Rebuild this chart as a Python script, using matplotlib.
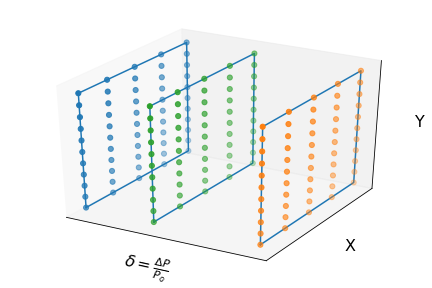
import matplotlib
matplotlib.use("Agg")
import matplotlib.pyplot as plt
import numpy as np
from mpl_toolkits.mplot3d import Axes3D

delta_planes = [-0.02, 0, 0.03]
plane_colors = ["C0", "C2", "C1"]
x_grid = [0, 1, 2, 3, 4]
y_grid = [0, 1, 2, 3, 4, 5, 6, 7, 8, 9, 10]

fig = plt.figure(figsize=(6, 4), dpi=72)
ax = fig.add_axes([0.1075, 0.119, 0.792, 0.77], projection="3d")
# let the box stretch to the whole axes, no square aspect
ax.apply_aspect = lambda position=None: None
ax.set_box_aspect((1, 1, 1), zoom=1.133)

X, Y = np.meshgrid(x_grid, y_grid)
for d, c in zip(delta_planes, plane_colors):
    D = np.full(X.shape, d)
    ax.scatter(D.ravel(), X.ravel(), Y.ravel(), c=c, s=26)
    # plane outline
    ax.plot([d, d, d, d, d],
            [x_grid[0], x_grid[-1], x_grid[-1], x_grid[0], x_grid[0]],
            [y_grid[0], y_grid[0], y_grid[-1], y_grid[-1], y_grid[0]], color="C0")

ax.set_xticks([])
ax.set_yticks([])
ax.set_zticks([])
ax.set_xlabel(r"$\delta = \frac{\Delta P}{P_o}$", fontsize=16, labelpad=0)
ax.set_ylabel("X", fontsize=16, labelpad=0)
ax.set_zlabel("Y", fontsize=16, labelpad=0)

plt.savefig("out.png")
